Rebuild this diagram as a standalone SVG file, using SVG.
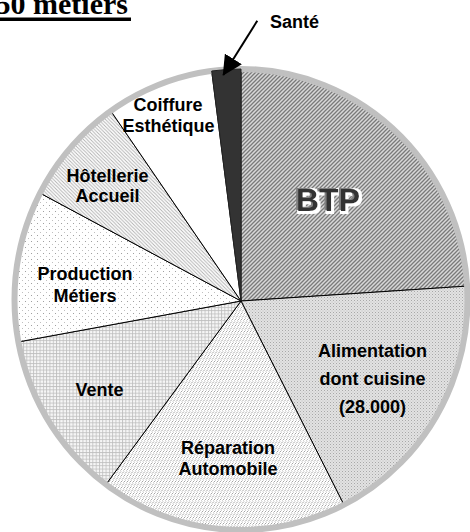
<svg xmlns="http://www.w3.org/2000/svg" width="470" height="532" viewBox="0 0 470 532">
<style>
.lbl{font-family:"Liberation Sans",Arial,sans-serif;font-weight:bold;font-size:18px;fill:#000;text-anchor:middle}
.edge{stroke:#000;stroke-width:1}
.btp{font-family:"Liberation Sans",Arial,sans-serif;font-weight:bold;font-size:32px;text-anchor:middle;fill:#333}
</style>
<defs>
<pattern id="pBTP" width="4" height="4" patternUnits="userSpaceOnUse">
<rect width="4" height="4" fill="#d8d8d8"/>
<path d="M-1,1 L1,-1 M0,4 L4,0 M3,5 L5,3" stroke="#7a7a7a" stroke-width="1.3"/>
</pattern>
<pattern id="pAli" width="3" height="3" patternUnits="userSpaceOnUse">
<rect width="3" height="3" fill="#e2e2e2"/>
<rect width="1" height="1" fill="#a8a8a8"/>
<rect x="1.5" y="1.5" width="1" height="1" fill="#c0c0c0"/>
</pattern>
<pattern id="pRep" width="6" height="6" patternUnits="userSpaceOnUse">
<rect width="6" height="6" fill="#fff"/>
<path d="M0.5,2.5 L2.5,0.5 M3.5,2.5 L5.5,0.5 M2,5.5 L4,3.5 M5,5.5 L7,3.5 M-1,5.5 L1,3.5" stroke="#9a9a9a" stroke-width="0.9"/>
</pattern>
<pattern id="pVen" width="3.3" height="3.3" patternUnits="userSpaceOnUse">
<rect width="3.3" height="3.3" fill="#f6f6f6"/>
<path d="M0,0.5 H3.3 M0.5,0 V3.3" stroke="#bcbcbc" stroke-width="0.8"/>
</pattern>
<pattern id="pPro" width="6" height="6" patternUnits="userSpaceOnUse">
<rect width="6" height="6" fill="#fff"/>
<rect x="1" y="1" width="1" height="1" fill="#a0a0a0"/>
<rect x="4" y="4" width="1" height="1" fill="#c0c0c0"/>
</pattern>
<pattern id="pHot" width="3.5" height="3.5" patternUnits="userSpaceOnUse">
<rect width="3.5" height="3.5" fill="#fff"/>
<path d="M-1,-1 L4.5,4.5 M-1,2.5 L1,4.5 M2.5,-1 L4.5,1" stroke="#b0b0b0" stroke-width="0.9"/>
</pattern>
<filter id="emboss" x="-20%" y="-30%" width="140%" height="160%">
<feMorphology in="SourceAlpha" operator="dilate" radius="1.5" result="fat"/>
<feOffset in="fat" dx="1" dy="1" result="fatOff"/>
<feFlood flood-color="#ffffff"/>
<feComposite in2="fatOff" operator="in" result="white"/>
<feOffset in="SourceAlpha" dx="-2" dy="-1.5" result="sh"/>
<feFlood flood-color="#808080"/>
<feComposite in2="sh" operator="in" result="grey"/>
<feMerge>
<feMergeNode in="white"/>
<feMergeNode in="grey"/>
<feMergeNode in="SourceGraphic"/>
</feMerge>
</filter>
<marker id="arrowHead" markerWidth="20" markerHeight="20" refX="19" refY="10" orient="auto" markerUnits="userSpaceOnUse">
<path d="M0,0 L20,10 L0,20 Z" fill="#000"/>
</marker>
</defs>

<g id="title">
<text x="128" y="14" font-family="Liberation Serif,'Times New Roman',serif" font-weight="bold" font-size="30" text-anchor="end" fill="#000">50 métiers</text>
<rect x="0" y="17.5" width="131" height="3.5" fill="#000"/>
</g>

<g id="slice-btp">
<path class="edge" d="M241,301 L241,69 A226.5,230.5 0 0,1 467.1,286.1 Z" fill="url(#pBTP)"/>
</g>
<g id="slice-alimentation">
<path class="edge" d="M241,301 L467.1,286.1 A226.5,230.5 0 0,1 343.9,504.8 Z" fill="url(#pAli)"/>
</g>
<g id="slice-reparation">
<path class="edge" d="M241,301 L343.9,504.8 A226.5,230.5 0 0,1 105.9,484.5 Z" fill="url(#pRep)"/>
</g>
<g id="slice-vente">
<path class="edge" d="M241,301 L105.9,484.5 A226.5,230.5 0 0,1 18.4,341.9 Z" fill="url(#pVen)"/>
</g>
<g id="slice-production">
<path class="edge" d="M241,301 L18.4,341.9 A226.5,230.5 0 0,1 40.1,193.1 Z" fill="url(#pPro)"/>
</g>
<g id="slice-hotellerie">
<path class="edge" d="M241,301 L40.1,193.1 A226.5,230.5 0 0,1 110.8,110.9 Z" fill="url(#pHot)"/>
</g>
<g id="slice-coiffure">
<path class="edge" d="M241,301 L110.8,110.9 A226.5,230.5 0 0,1 211.7,71 Z" fill="#fff"/>
</g>

<ellipse id="rim" cx="241" cy="299.5" rx="226.5" ry="230.5" fill="none" stroke="#c0c0c0" stroke-width="6"/>

<g id="slice-sante">
<path d="M241,301 L211.7,71 A226.5,230.5 0 0,1 241,69 Z" fill="#333" stroke="#222" stroke-width="1"/>
</g>

<g id="labels">
<text class="btp" x="328" y="210.5" filter="url(#emboss)">BTP</text>
<text class="lbl" x="372.5" y="357">Alimentation</text>
<text class="lbl" x="372.5" y="385">dont cuisine</text>
<text class="lbl" x="372.5" y="413">(28.000)</text>
<text class="lbl" x="228" y="454">Réparation</text>
<text class="lbl" x="228" y="475">Automobile</text>
<text class="lbl" x="99.5" y="396">Vente</text>
<text class="lbl" x="85" y="280">Production</text>
<text class="lbl" x="85" y="302">Métiers</text>
<text class="lbl" x="107.5" y="182">Hôtellerie</text>
<text class="lbl" x="107.5" y="202">Accueil</text>
<text class="lbl" x="168" y="111">Coiffure</text>
<text class="lbl" x="168.5" y="132">Esthétique</text>
<text class="lbl" x="294.5" y="28">Santé</text>
</g>

<g id="connectors">
<line x1="257.3" y1="20.7" x2="223.3" y2="75" stroke="#000" stroke-width="2" marker-end="url(#arrowHead)"/>
</g>
</svg>
